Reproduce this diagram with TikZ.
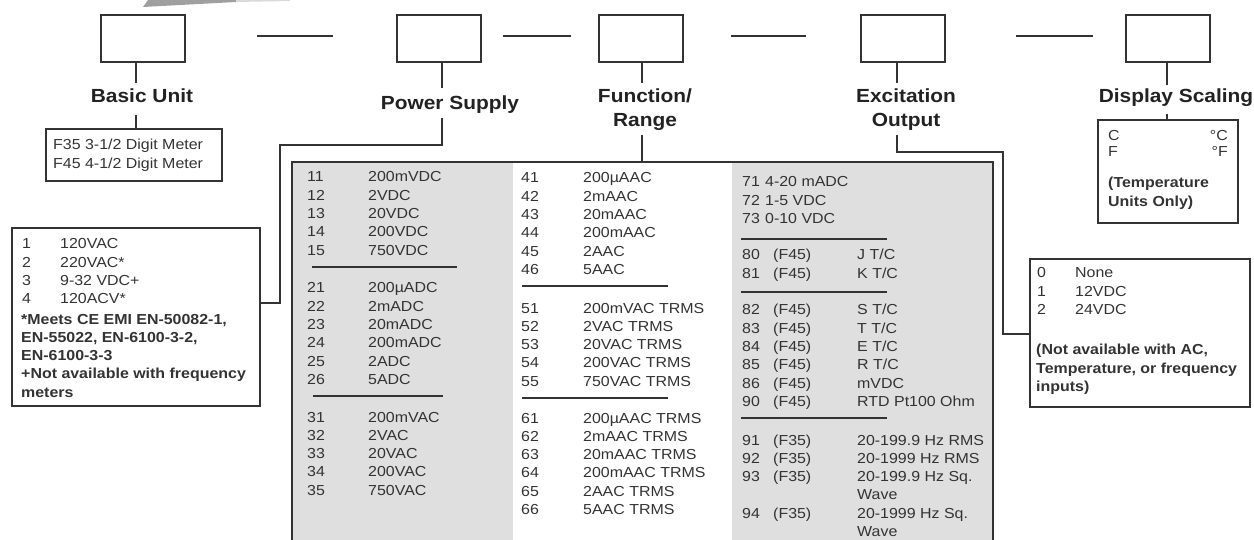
\documentclass[tikz,border=0pt]{standalone}
\usepackage{fontspec}
\setmainfont{Liberation Sans}
\newfontfamily\af[FakeStretch=1.1]{Liberation Sans}
\definecolor{linec}{HTML}{333333}
\definecolor{txtc}{HTML}{333333}
\definecolor{headc}{HTML}{222222}
\definecolor{gfill}{HTML}{DFDFDF}
\tikzset{
 pbox/.style={draw=linec, line width=2.6pt, minimum width=84pt, minimum height=47pt, inner sep=0},
 obox/.style={draw=linec, line width=2.4pt, inner sep=0},
 conn/.style={draw=linec, line width=2pt},
 sepline/.style={draw=linec, line width=2.6pt},
 head/.style={font=\af\bfseries\fontsize{19}{24}\selectfont, text=headc, inner sep=0, align=center},
 tx/.style={font=\af\fontsize{14.5}{18.3}\selectfont, text=txtc, inner sep=0},
 txb/.style={font=\af\bfseries\fontsize{14.5}{18.3}\selectfont, text=txtc, inner sep=0},
}
\begin{document}
\begin{tikzpicture}[x=1pt,y=-1pt]
\useasboundingbox (0,0) rectangle (1254,540);
% cropped banner sliver
\fill[gray!75] (143,7) -- (148,0) -- (236,0) -- (236,2) -- cycle;
\fill[gray!30] (236,0) -- (290,0) -- (290,1) -- (236,2) -- cycle;

% top code boxes
\node[pbox] (b1) at (143,38.5) {};
\node[pbox] (b2) at (439,38.5) {};
\node[pbox] (b3) at (641,38.5) {};
\node[pbox] (b4) at (903,38.5) {};
\node[pbox] (b5) at (1168,38.5) {};
% dashes between boxes
\coordinate (d1a) at (257,36); \coordinate (d1b) at (333,36);
\coordinate (d2a) at (503,36); \coordinate (d2b) at (571,36);
\coordinate (d3a) at (731,36); \coordinate (d3b) at (806,36);
\coordinate (d4a) at (1016,36); \coordinate (d4b) at (1093,36);
\draw[conn] (d1a) -- (d1b);
\draw[conn] (d2a) -- (d2b);
\draw[conn] (d3a) -- (d3b);
\draw[conn] (d4a) -- (d4b);

% headings
\node[head] (h1) at (142,96) {Basic Unit};
\node[head] (h2) at (450,105) {Power Supply};
\node[head] (h3) at (645,110) {Function/\\Range};
\node[head] (h4) at (906,110) {Excitation\\Output};
\node[head] (h5) at (1176,98) {Display Scaling};

% table background
\fill[gfill] (292,162) rectangle (513,545);
\fill[gfill] (732,162) rectangle (993,545);
\coordinate (tl) at (292,545); \coordinate (ttl) at (292,162);
\coordinate (ttr) at (993,162); \coordinate (tr) at (993,545);
\draw[obox] (tl) -- (ttl) -- (ttr) -- (tr);

% option boxes
\node[obox, minimum width=176pt, minimum height=52pt] (bbox) at (134,155) {};
\node[obox, minimum width=248pt, minimum height=178pt] (psbox) at (136,317) {};
\node[obox, minimum width=140pt, minimum height=103pt] (dbox) at (1168,171.5) {};
\node[obox, minimum width=220pt, minimum height=148pt] (ebox) at (1140,333) {};

% connectors
\coordinate (k1a) at (136,62); \coordinate (k1b) at (136,83);
\coordinate (k1c) at (136,115);
\draw[conn] (k1a) -- (k1b);
\draw[conn] (k1c) -- (bbox.north -| k1c);

\coordinate (k2a) at (442,62); \coordinate (k2b) at (442,88);
\coordinate (k2c) at (442,118); \coordinate (k2d) at (442,145);
\coordinate (k2e) at (280,145); \coordinate (k2f) at (280,303);
\draw[conn] (k2a) -- (k2b);
\draw[conn] (k2c) -- (k2d) -- (k2e) -- (k2f) -- (psbox.east |- k2f);

\coordinate (k3a) at (642,62); \coordinate (k3b) at (642,83);
\coordinate (k3c) at (642,135);
\draw[conn] (k3a) -- (k3b);
\draw[conn] (k3c) -- (ttl -| k3c);

\coordinate (k4a) at (897,62); \coordinate (k4b) at (897,83);
\coordinate (k4c) at (897,135); \coordinate (k4d) at (897,152);
\coordinate (k4e) at (1003,152); \coordinate (k4f) at (1003,334);
\draw[conn] (k4a) -- (k4b);
\draw[conn] (k4c) -- (k4d) -- (k4e) -- (k4f) -- (ebox.west |- k4f);

\coordinate (k5a) at (1167,62); \coordinate (k5b) at (1167,85);
\coordinate (k5c) at (1167,114);
\draw[conn] (k5a) -- (k5b);
\draw[conn] (k5c) -- (dbox.north -| k5c);

% basic unit text
\node[tx, anchor=base west] (bu) at (53,150) {\begin{tabular}[t]{@{}l@{}}F35 3-1/2 Digit Meter\\F45 4-1/2 Digit Meter\end{tabular}};

% power supply text
\node[tx, anchor=base west] (psl) at (22,249) {\begin{tabular}[t]{@{}p{38pt}@{}l@{}}1&120VAC\\2&220VAC*\\3&9-32 VDC+\\4&120ACV*\end{tabular}};
\node[txb, anchor=base west] (psn) at (21,324) {\begin{tabular}[t]{@{}l@{}}*Meets CE EMI EN-50082-1,\\EN-55022, EN-6100-3-2,\\EN-6100-3-3\\+Not available with frequency\\meters\end{tabular}};

% display scaling text
\node[tx, anchor=base west] (dsc) at (1108,141) {C};
\node[tx, anchor=base east] (dsc2) at (1228,141) {°C};
\node[tx, anchor=base west] (dsf) at (1108,157) {F};
\node[tx, anchor=base east] (dsf2) at (1228,157) {°F};
\node[txb, anchor=base west] (dsn) at (1108,188) {\begin{tabular}[t]{@{}l@{}}(Temperature\\Units Only)\end{tabular}};

% excitation text
\node[tx, anchor=base west] (exl) at (1037,278) {\begin{tabular}[t]{@{}p{38pt}@{}l@{}}0&None\\1&12VDC\\2&24VDC\end{tabular}};
\node[txb, anchor=base west] (exn) at (1036,355) {\begin{tabular}[t]{@{}l@{}}(Not available with AC,\\Temperature, or frequency\\inputs)\end{tabular}};

% column 1
\node[tx, anchor=base west] (c1a) at (307,182) {\begin{tabular}[t]{@{}p{61pt}@{}l@{}}11&200mVDC\\12&2VDC\\13&20VDC\\14&200VDC\\15&750VDC\end{tabular}};
\node[tx, anchor=base west] (c1b) at (307,293) {\begin{tabular}[t]{@{}p{61pt}@{}l@{}}21&200µADC\\22&2mADC\\23&20mADC\\24&200mADC\\25&2ADC\\26&5ADC\end{tabular}};
\node[tx, anchor=base west] (c1c) at (307,422) {\begin{tabular}[t]{@{}p{61pt}@{}l@{}}31&200mVAC\\32&2VAC\\33&20VAC\\34&200VAC\\35&750VAC\end{tabular}};
\coordinate (s1a) at (312,267); \coordinate (s1b) at (457,267);
\coordinate (s2a) at (313,396); \coordinate (s2b) at (443,396);
\draw[sepline] (s1a) -- (s1b);
\draw[sepline] (s2a) -- (s2b);

% column 2
\node[tx, anchor=base west] (c2a) at (521,183) {\begin{tabular}[t]{@{}p{62pt}@{}l@{}}41&200µAAC\\42&2mAAC\\43&20mAAC\\44&200mAAC\\45&2AAC\\46&5AAC\end{tabular}};
\node[tx, anchor=base west] (c2b) at (521,313) {\begin{tabular}[t]{@{}p{62pt}@{}l@{}}51&200mVAC TRMS\\52&2VAC TRMS\\53&20VAC TRMS\\54&200VAC TRMS\\55&750VAC TRMS\end{tabular}};
\node[tx, anchor=base west] (c2c) at (521,423) {\begin{tabular}[t]{@{}p{62pt}@{}l@{}}61&200µAAC TRMS\\62&2mAAC TRMS\\63&20mAAC TRMS\\64&200mAAC TRMS\\65&2AAC TRMS\\66&5AAC TRMS\end{tabular}};
\coordinate (s3a) at (522,286); \coordinate (s3b) at (668,286);
\coordinate (s4a) at (522,398); \coordinate (s4b) at (668,398);
\draw[sepline] (s3a) -- (s3b);
\draw[sepline] (s4a) -- (s4b);

% column 3
\node[tx, anchor=base west] (c3a) at (742,187) {\begin{tabular}[t]{@{}p{23pt}@{}l@{}}71&4-20 mADC\\72&1-5 VDC\\73&0-10 VDC\end{tabular}};
\node[tx, anchor=base west] (c3b) at (742,260) {\begin{tabular}[t]{@{}p{31pt}@{}p{84pt}@{}l@{}}80&(F45)&J T/C\\81&(F45)&K T/C\end{tabular}};
\node[tx, anchor=base west] (c3c) at (742,315) {\begin{tabular}[t]{@{}p{31pt}@{}p{84pt}@{}l@{}}82&(F45)&S T/C\\83&(F45)&T T/C\\84&(F45)&E T/C\\85&(F45)&R T/C\\86&(F45)&mVDC\\90&(F45)&RTD Pt100 Ohm\end{tabular}};
\node[tx, anchor=base west] (c3d) at (742,445) {\begin{tabular}[t]{@{}p{31pt}@{}p{84pt}@{}l@{}}91&(F35)&20-199.9 Hz RMS\\92&(F35)&20-1999 Hz RMS\\93&(F35)&20-199.9 Hz Sq.\\&&Wave\\94&(F35)&20-1999 Hz Sq.\\&&Wave\end{tabular}};
\coordinate (s5a) at (741,239); \coordinate (s5b) at (887,239);
\coordinate (s6a) at (741,292); \coordinate (s6b) at (887,292);
\coordinate (s7a) at (741,418); \coordinate (s7b) at (887,418);
\draw[sepline] (s5a) -- (s5b);
\draw[sepline] (s6a) -- (s6b);
\draw[sepline] (s7a) -- (s7b);
\end{tikzpicture}
\end{document}
